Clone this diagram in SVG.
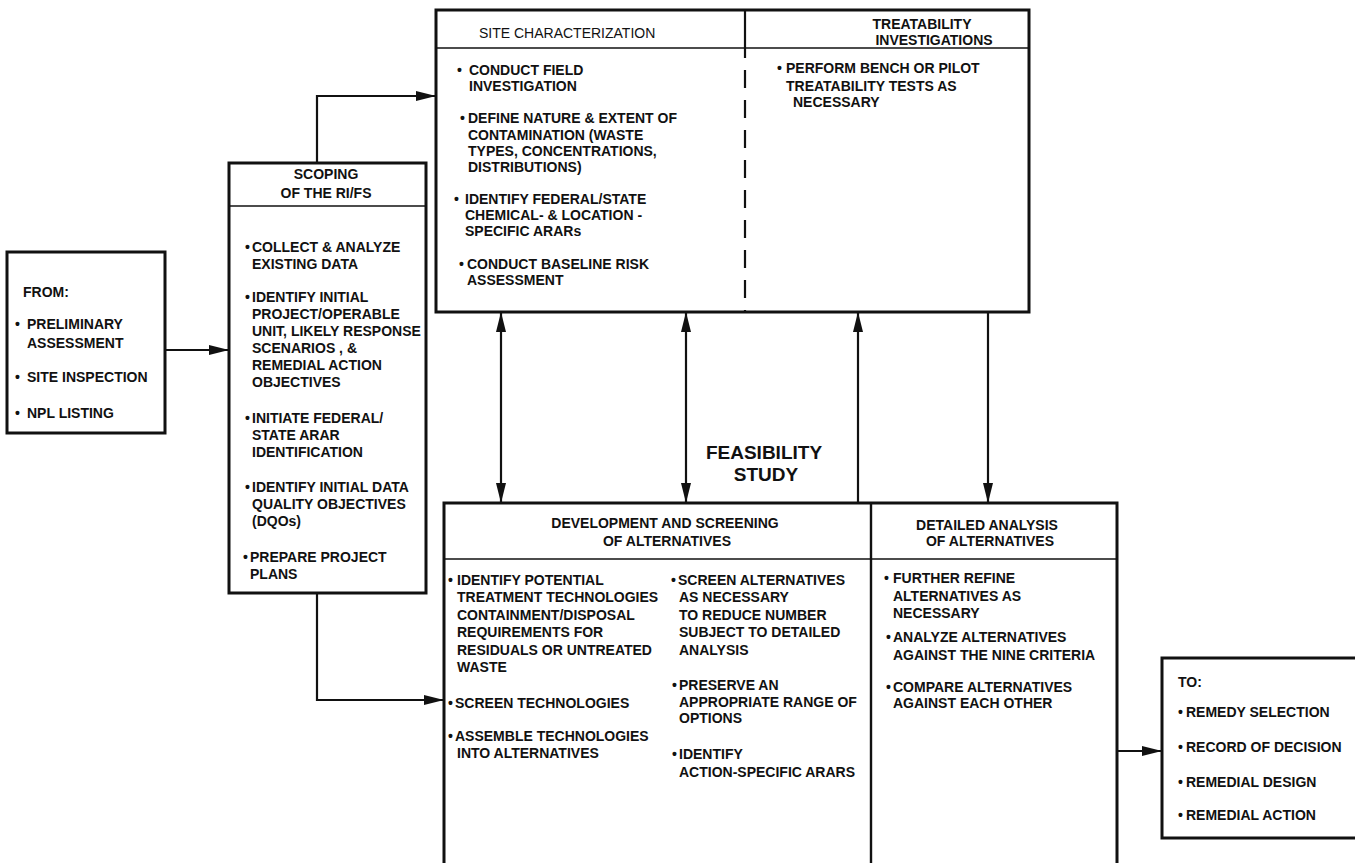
<svg xmlns="http://www.w3.org/2000/svg" width="1355" height="863" viewBox="0 0 1355 863">
<style>
.box{fill:#fff;stroke:#111;stroke-width:3}
.ln{fill:none;stroke:#111;stroke-width:1.6}
.dash{fill:none;stroke:#111;stroke-width:2.2;stroke-dasharray:18 12}
.t{font-family:"Liberation Sans",Arial,Helvetica,sans-serif;font-size:14px;font-weight:bold;fill:#111}
.hn{font-weight:normal}
.m{text-anchor:middle}
.big{font-family:"Liberation Sans",Arial,Helvetica,sans-serif;font-size:19px;font-weight:bold;fill:#111;text-anchor:middle}
.c{fill:none;stroke:#111;stroke-width:2.2}
</style>
<defs>
<marker id="ah" viewBox="0 0 20 10" refX="20" refY="5" markerWidth="20" markerHeight="10" markerUnits="userSpaceOnUse" orient="auto-start-reverse">
<path d="M0,0 L20,5 L0,10 z" fill="#111"/>
</marker>
</defs>
<rect width="1355" height="863" fill="#fff"/>

<g id="from">
<rect class="box" x="7" y="252" width="158" height="181"/>
<text class="t" x="23" y="297">FROM:</text>
<text class="t"><tspan x="15" y="329">•</tspan><tspan x="27" y="329">PRELIMINARY</tspan></text>
<text class="t" x="27" y="348">ASSESSMENT</text>
<text class="t"><tspan x="15" y="382">•</tspan><tspan x="27" y="382">SITE INSPECTION</tspan></text>
<text class="t"><tspan x="15" y="418">•</tspan><tspan x="27" y="418">NPL LISTING</tspan></text>
</g>

<g id="scoping">
<rect class="box" x="229" y="163" width="197" height="430"/>
<line class="ln" x1="229" y1="206" x2="426" y2="206"/>
<text class="t m" x="326" y="179">SCOPING</text>
<text class="t m" x="326" y="198">OF THE RI/FS</text>
<text class="t"><tspan x="245" y="252">•</tspan><tspan x="252" y="252">COLLECT &amp; ANALYZE</tspan></text>
<text class="t" x="252" y="269">EXISTING DATA</text>
<text class="t"><tspan x="245" y="302">•</tspan><tspan x="252" y="302">IDENTIFY INITIAL</tspan></text>
<text class="t" x="252" y="319">PROJECT/OPERABLE</text>
<text class="t" x="252" y="336">UNIT, LIKELY RESPONSE</text>
<text class="t" x="252" y="353">SCENARIOS , &amp;</text>
<text class="t" x="252" y="370">REMEDIAL ACTION</text>
<text class="t" x="252" y="387">OBJECTIVES</text>
<text class="t"><tspan x="245" y="423">•</tspan><tspan x="252" y="423">INITIATE FEDERAL/</tspan></text>
<text class="t" x="252" y="440">STATE ARAR</text>
<text class="t" x="252" y="457">IDENTIFICATION</text>
<text class="t"><tspan x="245" y="492">•</tspan><tspan x="252" y="492">IDENTIFY INITIAL DATA</tspan></text>
<text class="t" x="252" y="509">QUALITY OBJECTIVES</text>
<text class="t" x="252" y="526">(DQOs)</text>
<text class="t"><tspan x="243" y="562">•</tspan><tspan x="250" y="562">PREPARE PROJECT</tspan></text>
<text class="t" x="250" y="579">PLANS</text>
</g>

<g id="site-characterization">
<rect class="box" x="436" y="10" width="593" height="302"/>
<line class="ln" x1="436" y1="48" x2="1029" y2="48"/>
<line class="ln" x1="745" y1="10" x2="745" y2="58" style="stroke-width:2.2"/>
<line class="dash" x1="745" y1="70" x2="745" y2="312"/>
<text class="t hn" x="479" y="38">SITE CHARACTERIZATION</text>
<text class="t"><tspan x="457" y="75">•</tspan><tspan x="469" y="75">CONDUCT FIELD</tspan></text>
<text class="t" x="469" y="91">INVESTIGATION</text>
<text class="t"><tspan x="460" y="123">•</tspan><tspan x="468" y="123">DEFINE NATURE &amp; EXTENT OF</tspan></text>
<text class="t" x="468" y="140">CONTAMINATION (WASTE</text>
<text class="t" x="468" y="156">TYPES, CONCENTRATIONS,</text>
<text class="t" x="468" y="172">DISTRIBUTIONS)</text>
<text class="t"><tspan x="454" y="204">•</tspan><tspan x="465" y="204">IDENTIFY FEDERAL/STATE</tspan></text>
<text class="t" x="465" y="220">CHEMICAL- &amp; LOCATION -</text>
<text class="t" x="465" y="236">SPECIFIC ARARs</text>
<text class="t"><tspan x="459" y="269">•</tspan><tspan x="467" y="269">CONDUCT BASELINE RISK</tspan></text>
<text class="t" x="467" y="285">ASSESSMENT</text>
</g>

<g id="treatability">
<text class="t m" x="922" y="29">TREATABILITY</text>
<text class="t m" x="934" y="45">INVESTIGATIONS</text>
<text class="t"><tspan x="777" y="73">•</tspan><tspan x="786" y="73">PERFORM BENCH OR PILOT</tspan></text>
<text class="t" x="786" y="91">TREATABILITY TESTS AS</text>
<text class="t" x="793" y="107">NECESSARY</text>
</g>

<g id="feasibility-study">
<text class="big" x="764" y="459">FEASIBILITY</text>
<text class="big" x="766" y="481">STUDY</text>
</g>

<g id="development-screening">
<rect class="box" x="444" y="503" width="673" height="380"/>
<line class="ln" x1="444" y1="559" x2="1117" y2="559"/>
<line class="c" x1="871" y1="503" x2="871" y2="870" style="stroke-width:2.4"/>
<text class="t m" x="665" y="528">DEVELOPMENT AND SCREENING</text>
<text class="t m" x="667" y="546">OF ALTERNATIVES</text>
<text class="t"><tspan x="448" y="585">•</tspan><tspan x="457" y="585">IDENTIFY POTENTIAL</tspan></text>
<text class="t" x="457" y="602">TREATMENT TECHNOLOGIES</text>
<text class="t" x="457" y="620">CONTAINMENT/DISPOSAL</text>
<text class="t" x="457" y="637">REQUIREMENTS FOR</text>
<text class="t" x="457" y="655">RESIDUALS OR UNTREATED</text>
<text class="t" x="457" y="672">WASTE</text>
<text class="t"><tspan x="448" y="708">•</tspan><tspan x="455" y="708">SCREEN TECHNOLOGIES</tspan></text>
<text class="t"><tspan x="448" y="741">•</tspan><tspan x="455" y="741">ASSEMBLE TECHNOLOGIES</tspan></text>
<text class="t" x="457" y="758">INTO ALTERNATIVES</text>
<text class="t"><tspan x="671" y="585">•</tspan><tspan x="678" y="585">SCREEN ALTERNATIVES</tspan></text>
<text class="t" x="679" y="602">AS NECESSARY</text>
<text class="t" x="679" y="620">TO REDUCE NUMBER</text>
<text class="t" x="679" y="637">SUBJECT TO DETAILED</text>
<text class="t" x="679" y="655">ANALYSIS</text>
<text class="t"><tspan x="672" y="690">•</tspan><tspan x="679" y="690">PRESERVE AN</tspan></text>
<text class="t" x="679" y="707">APPROPRIATE  RANGE OF</text>
<text class="t" x="679" y="723">OPTIONS</text>
<text class="t"><tspan x="672" y="759">•</tspan><tspan x="679" y="759">IDENTIFY</tspan></text>
<text class="t" x="679" y="777">ACTION-SPECIFIC ARARS</text>
</g>

<g id="detailed-analysis">
<text class="t m" x="987" y="530">DETAILED ANALYSIS</text>
<text class="t m" x="990" y="546">OF ALTERNATIVES</text>
<text class="t"><tspan x="884" y="583">•</tspan><tspan x="893" y="583">FURTHER REFINE</tspan></text>
<text class="t" x="893" y="601">ALTERNATIVES AS</text>
<text class="t" x="893" y="618">NECESSARY</text>
<text class="t"><tspan x="886" y="642">•</tspan><tspan x="893" y="642">ANALYZE  ALTERNATIVES</tspan></text>
<text class="t" x="893" y="660">AGAINST THE NINE CRITERIA</text>
<text class="t"><tspan x="886" y="692">•</tspan><tspan x="893" y="692">COMPARE ALTERNATIVES</tspan></text>
<text class="t" x="893" y="708">AGAINST EACH OTHER</text>
</g>

<g id="to">
<rect class="box" x="1162" y="658" width="200" height="180"/>
<text class="t" x="1178" y="687">TO:</text>
<text class="t"><tspan x="1178" y="717">•</tspan><tspan x="1186" y="717">REMEDY SELECTION</tspan></text>
<text class="t"><tspan x="1178" y="752">•</tspan><tspan x="1186" y="752">RECORD OF DECISION</tspan></text>
<text class="t"><tspan x="1178" y="787">•</tspan><tspan x="1186" y="787">REMEDIAL DESIGN</tspan></text>
<text class="t"><tspan x="1178" y="820">•</tspan><tspan x="1186" y="820">REMEDIAL ACTION</tspan></text>
</g>

<g id="connectors">
<path class="c" d="M165,350 H229" marker-end="url(#ah)"/>
<path class="c" d="M317,163 V96 H436" marker-end="url(#ah)"/>
<path class="c" d="M317,593 V700 H444" marker-end="url(#ah)"/>
<path class="c" d="M501,312 V503" marker-start="url(#ah)" marker-end="url(#ah)"/>
<path class="c" d="M686,312 V503" marker-start="url(#ah)" marker-end="url(#ah)"/>
<path class="c" d="M858,503 V312" marker-end="url(#ah)"/>
<path class="c" d="M988,312 V503" marker-end="url(#ah)"/>
<path class="c" d="M1117,751 H1162" marker-end="url(#ah)"/>
</g>
</svg>
